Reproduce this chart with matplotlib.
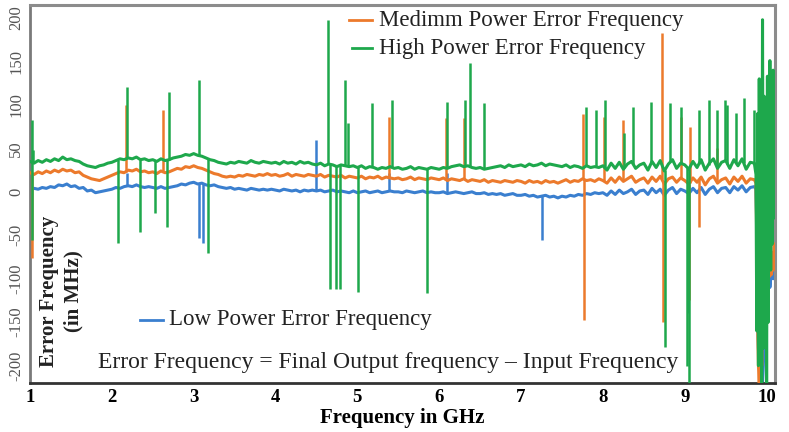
import numpy as np
import matplotlib
matplotlib.use("Agg")
import matplotlib.pyplot as plt

plt.rcParams['font.family'] = ['Liberation Serif', 'DejaVu Serif']

# sweep grid, 1.00 .. 9.85 GHz in 0.05 GHz steps
freq = np.round(np.arange(1.0, 9.851, 0.05), 2)

# error frequency (MHz) along the sweep
low_err = [
    2, 4, 3, 5, 4, 6, 5, 8, 7, 9,
    6, 7, 4, 5, 1, 2, -1, 0, 1, 2,
    3, 5, 4, 6, 7, 6, 8, 6, 5, 6,
    5, 4, 6, 4, 5, 6, 7, 9, 8, 10,
    11, 9, 10, 8, 7, 8, 6, 5, 4, 5,
    3, 4, 3, 2, 4, 3, 2, 3, 2, 3,
    2, 1, 3, 2, 1, 2, 0, 2, 1, 2,
    1, 2, 0, 1, 2, 0, 1, 0, -1, 1,
    -1, 0, 1, -1, 0, 1, -1, 0, 1, 0,
    0, -1, 1, 0, -1, 0, 1, -1, 0, -1,
    -1, 0, -2, -1, 0, -1, -2, -1, 0, -2,
    -2, -1, -3, -2, -3, -2, -4, -3, -2, -4,
    -4, -3, -5, -4, -6, -5, -4, -6, -5, -7,
    -5, -6, -4, -5, -3, -4, -2, -3, -1, -2,
    -1, -4, 1, -3, 2, -2, 0, 3, -3, 1,
    2, -3, 4, -1, 3, -4, 2, 5, -2, 3,
    1, -2, 4, -1, 5, -3, 3, 6, -1, 4,
    5, -1, 6, 2, 7, 0, 5, 6,
]
med_err = [
    22, 20, 23, 21, 24, 22, 25, 23, 26, 24,
    25, 22, 23, 19, 17, 15, 14, 13, 15, 17,
    19, 21, 23, 22, 25, 24, 26, 23, 24, 22,
    23, 21, 24, 22, 23, 25, 27, 26, 29, 28,
    30, 28, 27, 25, 23, 21, 20, 18, 17, 18,
    17, 19, 18, 20, 19, 18, 20, 19, 21, 19,
    20, 18, 19, 21, 18, 20, 19, 18, 20, 19,
    18, 20, 17, 19, 18, 17, 19, 16, 18, 17,
    16, 18, 15, 17, 16, 18, 15, 17, 16, 15,
    16, 14, 15, 17, 14, 16, 15, 14, 16, 15,
    14, 16, 13, 15, 14, 13, 15, 12, 14, 13,
    12, 14, 11, 13, 12, 11, 13, 12, 11, 13,
    12, 10, 13, 11, 12, 10, 13, 11, 12, 10,
    12, 14, 11, 13, 12, 15, 13, 14, 12, 15,
    13, 10, 16, 11, 17, 12, 15, 18, 11, 14,
    16, 10, 17, 12, 18, 9, 15, 17, 11, 16,
    13, 9, 16, 11, 17, 8, 15, 18, 10, 14,
    16, 9, 17, 12, 18, 10, 15, 14,
]
high_err = [
    35, 33, 36, 34, 37, 35, 38, 36, 40, 37,
    38, 36, 35, 32, 30, 29, 28, 30, 31, 33,
    34, 36, 38, 37, 39, 38, 40, 37, 38, 36,
    37, 35, 38, 36, 37, 39, 40, 41, 43, 42,
    44, 42, 41, 39, 37, 36, 34, 33, 32, 34,
    33, 35, 34, 33, 36, 34, 33, 35, 34, 33,
    34, 32, 35, 33, 34, 32, 35, 33, 34, 32,
    31, 33, 30, 32, 31, 29, 31, 30, 29, 30,
    28, 30, 27, 29, 28, 26, 28, 27, 29, 27,
    28, 26, 27, 29, 26, 28, 27, 26, 28, 27,
    26, 28, 27, 29, 30, 31, 29, 30, 28, 27,
    28, 26, 27, 28, 29, 30, 28, 31, 29, 30,
    31, 29, 32, 30, 31, 33, 30, 32, 31, 30,
    29, 31, 28, 30, 29, 27, 30, 28, 29, 28,
    30, 25, 33, 27, 34, 26, 32, 35, 27, 31,
    33, 25, 35, 28, 36, 24, 32, 37, 27, 33,
    31, 26, 35, 28, 37, 25, 33, 38, 27, 34,
    36, 27, 37, 30, 38, 26, 34, 33,
]

# unstable end of the band, 9.87 .. 10.09 GHz
tail_f = [9.87, 9.88, 9.89, 9.90, 9.91, 9.92, 9.93, 9.94, 9.95, 9.96, 9.97, 9.98,
          9.99, 10.00, 10.01, 10.02, 10.03, 10.04, 10.05, 10.06, 10.07, 10.08, 10.09]
low_tail = [3, -40, -140, -180, -200, -220, -210, -190, -220, -200, -170, -150,
            -130, -120, -110, -100, -90, -110, -100, -95, -90, -100, -85]
med_tail = [10, -60, -150, -200, -220, -180, -120, -200, -90, -160, -60, -140,
            -50, -110, -70, -100, -60, -97, -80, -95, -70, -90, -60]
high_tail = [20, -160, 90, -200, 130, -140, 60, -220, 198, -180, 110, -120,
             80, -220, 133, -150, 40, 151, -90, 120, -60, 140, -30]

# glitches (frequency, peak error)
low_spike_f = [2.19, 3.06, 3.11, 4.49, 5.39, 6.09, 7.25, 9.04]
low_spike_v = [22, -53, -59, 60, 22, 22, -55, -139]
med_spike_f = [1.02, 2.17, 2.63, 5.39, 6.08, 6.30, 7.76, 7.77, 8.01, 8.25,
               8.72, 8.73, 8.95, 9.05, 9.06, 9.18, 9.39]
med_spike_v = [-76, 100, 94, 86, 85, 85, 90, -147, 86, 83,
               183, -150, 86, -124, 75, -41, 50]
high_spike_f = [1.02, 1.03, 1.04, 2.08, 2.19, 2.35, 2.53, 2.68, 2.70, 3.07,
                3.17, 4.64, 4.67, 4.74, 4.79, 4.85, 4.88, 5.01, 5.18, 5.42,
                5.85, 6.09, 6.32, 6.38, 6.55, 7.79, 7.92, 8.03, 8.26, 8.37,
                8.59, 8.76, 8.82, 8.96, 9.03, 9.05, 9.17, 9.29, 9.39, 9.49,
                9.52, 9.63, 9.72, 9.85]
high_spike_v = [83, -55, 48, -59, 121, -46, -24, -41, 115, 129,
                -70, 198, -112, -112, -112, 129, 79, -115, 102, 106,
                -116, 103, 106, 148, 102, 98, 94, 106, 68, 98,
                103, -178, 102, 98, -200, -220, 94, 106, 94, 106,
                100, 91, 108, 94]

c_low, c_med, c_high = '#3a7fcf', '#ec7a2c', '#1ea84c'

fig = plt.figure(figsize=(7.89, 4.32), dpi=100)
ax = fig.add_axes([0.038, 0.1134, 0.944, 0.875])

series = [
    (low_err, low_tail, low_spike_f, low_spike_v, c_low),
    (med_err, med_tail, med_spike_f, med_spike_v, c_med),
    (high_err, high_tail, high_spike_f, high_spike_v, c_high),
]
for z, (vals, tail, sf, sv, col) in enumerate(series):
    x = np.concatenate([freq, tail_f])
    y = np.concatenate([vals, tail])
    ax.plot(x, y, color=col, lw=2.2, zorder=2 + z)
    base = np.interp(sf, freq, vals)
    ax.vlines(sf, base, sv, color=col, lw=1.8, zorder=2 + z)

ax.set_xlim(1.0, 10.1)
ax.set_ylim(-220, 215)

ax.set_xticks(range(1, 11))
ax.set_xticklabels([str(v) for v in range(1, 11)], fontsize=13.5, fontweight='bold')
yt = list(range(-200, 201, 50))
ax.set_yticks(yt)
ax.set_yticklabels([str(v) for v in yt], fontsize=12, rotation=90, va='center',
                   color='#555555')
ax.tick_params(axis='both', length=0)
ax.tick_params(axis='x', pad=4)
ax.tick_params(axis='y', pad=4)

ax.set_xlabel('Frequency in GHz', fontsize=15, fontweight='bold', labelpad=2)

for side in ['top', 'right']:
    ax.spines[side].set_color('#8c8c8c')
    ax.spines[side].set_linewidth(2.2)
ax.spines['left'].set_color('#7a7a7a')
ax.spines['left'].set_linewidth(2)
ax.spines['bottom'].set_color('#333333')
ax.spines['bottom'].set_linewidth(2)

# y label sits inside the plot
ax.text(0.042, 0.243, 'Error Frequency\n(in MHz)', transform=ax.transAxes,
        rotation=90, ha='center', va='center', fontsize=15, fontweight='bold',
        linespacing=1.35, color='#222222')

# hand-placed series keys
keys = [
    (0.428, 0.459, 0.960, c_med, 'Medimm Power Error Frequency'),
    (0.432, 0.459, 0.886, c_high, 'High Power Error Frequency'),
    (0.148, 0.178, 0.167, c_low, 'Low Power Error Frequency'),
]
for x0, x1, yk, col, label in keys:
    ax.plot([x0, x1], [yk, yk], color=col, lw=2, transform=ax.transAxes, zorder=6)
    ax.text(x1 + 0.009, yk, label, transform=ax.transAxes, ha='left', va='center',
            fontsize=16.5, color='#222222', zorder=6)

ax.text(0.481, 0.053, 'Error Frequency = Final Output frequency \u2013 Input Frequency',
        transform=ax.transAxes, ha='center', va='center', fontsize=17,
        color='#222222', zorder=6)

fig.savefig('out.png', dpi=100)
